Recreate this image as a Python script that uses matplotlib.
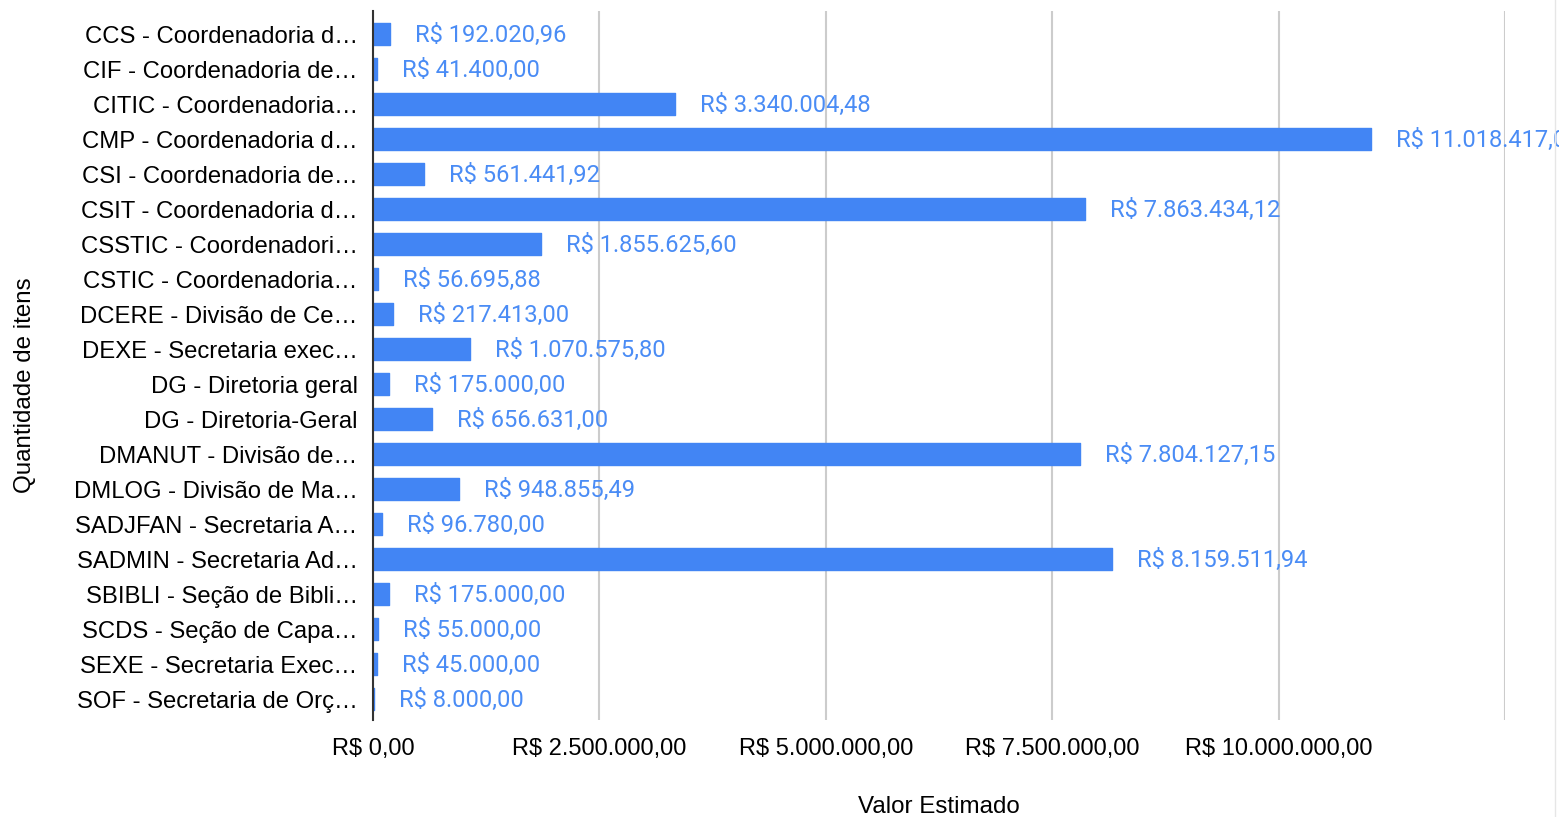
import matplotlib
matplotlib.use("Agg")
import matplotlib.pyplot as plt
import numpy as np

# ---------------------------------------------------------------------------
# Data
# ---------------------------------------------------------------------------

labels = [
    "CCS - Coordenadoria d…",
    "CIF - Coordenadoria de…",
    "CITIC - Coordenadoria…",
    "CMP - Coordenadoria d…",
    "CSI - Coordenadoria de…",
    "CSIT - Coordenadoria d…",
    "CSSTIC - Coordenadori…",
    "CSTIC - Coordenadoria…",
    "DCERE - Divisão de Ce…",
    "DEXE - Secretaria exec…",
    "DG - Diretoria geral",
    "DG - Diretoria-Geral",
    "DMANUT - Divisão de…",
    "DMLOG - Divisão de Ma…",
    "SADJFAN - Secretaria A…",
    "SADMIN - Secretaria Ad…",
    "SBIBLI - Seção de Bibli…",
    "SCDS - Seção de Capa…",
    "SEXE - Secretaria Exec…",
    "SOF - Secretaria de Orç…",
]

values = [
    192020.96, 41400.00, 3340004.48, 11018417.00, 561441.92,
    7863434.12, 1855625.60, 56695.88, 217413.00, 1070575.80,
    175000.00, 656631.00, 7804127.15, 948855.49, 96780.00,
    8159511.94, 175000.00, 55000.00, 45000.00, 8000.00,
]

x_ticks = [0, 2500000, 5000000, 7500000, 10000000]
x_max = 12500000

BAR_COLOR = "#4285F4"
LABEL_COLOR = "#4A8CF5"


def fmt_brl(v):
    s = f"{v:,.2f}"
    s = s.replace(",", "X").replace(".", ",").replace("X", ".")
    return "R$ " + s


# ---------------------------------------------------------------------------
# Figure
# ---------------------------------------------------------------------------

fig = plt.figure(figsize=(15.59, 8.17), dpi=100)
ax = fig.add_axes([373 / 1559, 1 - 720 / 817, (1505 - 373) / 1559, (720 - 11) / 817])

y = np.arange(len(labels))
ax.barh(y, values, height=0.63, color=BAR_COLOR, edgecolor=BAR_COLOR,
        linewidth=1, joinstyle="round", zorder=3)

ax.set_ylim(19.59, -0.67)
ax.set_xlim(0, x_max)

ax.set_yticks(y)
ax.set_yticklabels(labels, fontsize=17.2, family="Liberation Sans")
ax.tick_params(axis="y", length=0, pad=11)

ax.set_xticks(x_ticks + [x_max])
ax.set_xticklabels([fmt_brl(t) for t in x_ticks] + [""],
                   fontsize=17, family="Liberation Sans")
ax.tick_params(axis="x", length=0, pad=13)
ax.grid(axis="x", color="#CCCCCC", linewidth=1.5, zorder=0)

for side in ("top", "right", "bottom"):
    ax.spines[side].set_visible(False)
ax.spines["left"].set_color("#333333")
ax.spines["left"].set_linewidth(1.5)
ax.spines["left"].set_zorder(4)

for yi, v in zip(y, values):
    ax.annotate(fmt_brl(v), (v, yi), xytext=(25, -1), textcoords="offset pixels",
                va="center", ha="left", fontsize=17.1, family="Roboto",
                color=LABEL_COLOR, annotation_clip=False, clip_on=False)

fig.text(939 / 1559, 1 - 807 / 817, "Valor Estimado", ha="center", va="center",
         fontsize=17.4, family="Liberation Sans")
fig.text(25 / 1559, 1 - 385 / 817, "Quantidade de itens", ha="center", va="center",
         rotation=90, fontsize=17.4, family="Liberation Sans")

fig.add_artist(plt.Line2D([1555 / 1559] * 2, [0, 1], color="#E6E6E6", linewidth=1))

fig.savefig("out.png", dpi=100)
